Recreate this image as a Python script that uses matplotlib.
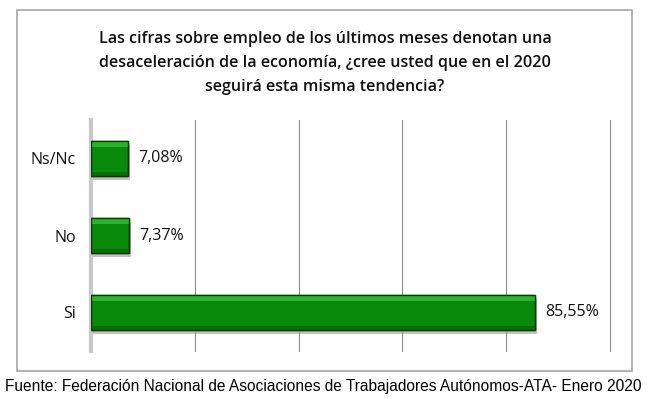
import matplotlib
matplotlib.use("Agg")
import matplotlib.pyplot as plt
from matplotlib.patches import Rectangle
import matplotlib.patheffects as pe

categories = ["Si", "No", "Ns/Nc"]
values = [85.55, 7.37, 7.08]
value_labels = ["85,55%", "7,37%", "7,08%"]
title = ("Las cifras sobre empleo de los últimos meses denotan una\n"
         "desaceleración de la economía, ¿cree usted que en el 2020\n"
         "seguirá esta misma tendencia?")
source = "Fuente: Federación Nacional de Asociaciones de Trabajadores Autónomos-ATA- Enero 2020"

W, H = 650, 399
fig = plt.figure(figsize=(W / 100, H / 100), dpi=100)
fig.patch.set_facecolor("white")

# outer box
box = Rectangle((17 / W, 1 - 371 / H), (632 - 17) / W, (371 - 10) / H,
                transform=fig.transFigure, facecolor="none",
                edgecolor="#a6a6a6", linewidth=1.2, zorder=-1)
fig.patches.append(box)

ax = fig.add_axes([91 / W, 1 - 351 / H, (610 - 91) / W, (351 - 120) / H])
ax.set_facecolor("none")
ax.set_xlim(0, 100)
ax.set_ylim(-0.5, 2.5)
ax.set_xticks([20, 40, 60, 80, 100])
ax.xaxis.grid(True, color="#8c8c8c", linewidth=0.8)
for gl in ax.xaxis.get_gridlines():
    gl.set_clip_on(False)
ax.set_axisbelow(True)
ax.tick_params(axis="x", length=0, labelbottom=False)
ax.tick_params(axis="y", length=0, labelsize=11.5, pad=11)
for s in ["top", "right", "bottom"]:
    ax.spines[s].set_visible(False)
ax.spines["left"].set_color("#c8c8c8")
ax.spines["left"].set_linewidth(3)

ypos = list(range(len(categories)))
bars = ax.barh(ypos, values, height=0.46, color="#0a8a0a",
               edgecolor="#0b3d0b", linewidth=1.0, zorder=3)
for b in bars:
    b.set_path_effects([pe.SimplePatchShadow(offset=(1.5, -3), shadow_rgbFace="#9a9a9a", alpha=0.6),
                        pe.Normal()])
    x0, y0 = b.get_x(), b.get_y()
    w, h = b.get_width(), b.get_height()
    ax.add_patch(Rectangle((x0, y0 + h * 0.82), w, h * 0.18, facecolor="#2fb02f",
                           edgecolor="none", zorder=4))
    ax.add_patch(Rectangle((x0, y0), w, h * 0.12, facecolor="#067006",
                           edgecolor="none", zorder=4))
    ax.add_patch(Rectangle((x0, y0), w, h, facecolor="none",
                           edgecolor="#0b3d0b", linewidth=1.0, zorder=5))

ax.set_yticks(ypos)
ax.set_yticklabels(categories, family="Open Sans", color="#111111")

for y, v, lab in zip(ypos, values, value_labels):
    ax.text(v + 2.0, y, lab, va="center", ha="left", fontsize=11.5,
            family="Open Sans", color="#111111")

fig.text(0.5, 1 - 63 / H, title, ha="center", va="center", fontsize=11.6,
         fontweight="semibold", family="Open Sans", linespacing=1.68, color="#111111")

fig.text(5 / W, 1 - 386 / H, source, ha="left", va="center", fontsize=11.2,
         family="Liberation Sans", color="#000000")

fig.savefig("out.png", dpi=100, facecolor="white")
